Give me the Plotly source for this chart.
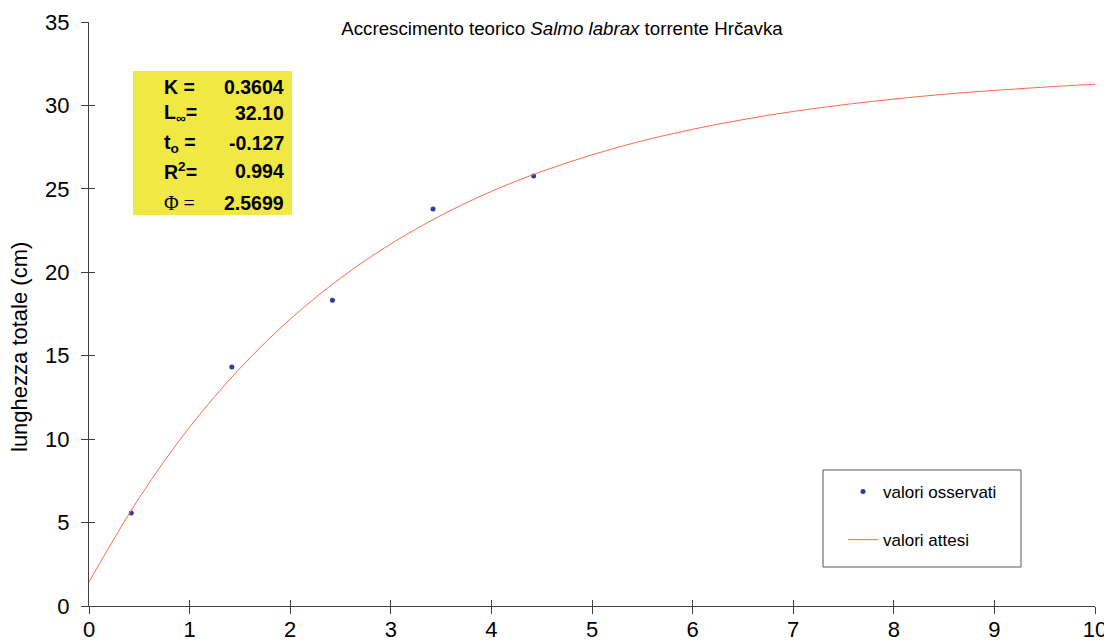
import plotly.graph_objects as go

# Observed values
obs_age = [0.42, 1.42, 2.42, 3.42, 4.42]
obs_len = [5.57, 14.32, 18.33, 23.79, 25.77]

# Expected values
exp_age = [0, 0.5, 1, 1.5, 2, 2.5, 3, 3.5, 4, 4.5, 5, 5.5, 6, 6.5, 7, 7.5, 8, 8.5, 9, 9.5, 10]
exp_len = [1.44, 6.49, 10.72, 14.24, 17.19, 19.65, 21.70, 23.41, 24.85, 26.04, 27.04,
           27.88, 28.57, 29.15, 29.64, 30.04, 30.38, 30.67, 30.90, 31.10, 31.27]

param_labels = ["K =", "L<sub>∞</sub>=", "t<sub>o</sub> =", "R<sup>2</sup>=", "Φ ="]
param_values = ["0.3604", "32.10", "-0.127", "0.994", "2.5699"]

x_ticks = list(range(0, 11))
y_ticks = list(range(0, 36, 5))

OFF = 8  # default page body margin
W, H = 1112 - OFF, 641 - OFF
PL, PR, PT, PB = 89, 1095, 22, 606  # plot area in page pixels
L, T = PL - OFF, PT - OFF
R = OFF + W - PR
B = OFF + H - PB


def px(x):
    return (x - PL) / (PR - PL)


def py(y):
    return (PB - y) / (PB - PT)


FONT = "Liberation Sans, Arial, sans-serif"
AX = "#404040"

fig = go.Figure()
fig.add_trace(go.Scatter(x=obs_age, y=obs_len, mode="markers", name="valori osservati",
                         marker=dict(color="#2E3D99", size=5), legendgroup="a"))
fig.add_trace(go.Scatter(x=exp_age, y=exp_len, mode="lines", name="valori attesi",
                         line=dict(color="#FF6A4D", width=1, shape="spline"), legendgroup="b"))
# invisible trace to create overlay axes for the second half of the crossing ticks
fig.add_trace(go.Scatter(x=[None], y=[None], xaxis="x2", yaxis="y2", showlegend=False))

tickfont = dict(family=FONT, size=22, color="#000")
base = dict(showgrid=False, zeroline=False, automargin=False, tickcolor=AX, tickwidth=1)

fig.update_layout(
    width=W, height=H,
    margin=dict(l=L, r=R, t=T, b=B),
    paper_bgcolor="white", plot_bgcolor="white",
    font=dict(family=FONT, color="#000"),
    title=dict(text="Accrescimento teorico <i>Salmo labrax</i> torrente Hrčavka",
               x=(562 - OFF) / W, xanchor="center", y=1 - (28 - OFF) / H, yanchor="middle",
               font=dict(family=FONT, size=18.7, color="#000")),
    xaxis=dict(range=[0, 10], tickvals=x_ticks, ticks="inside", ticklen=6,
               showline=True, linecolor=AX, linewidth=1,
               tickfont=tickfont, ticklabelstandoff=4, **base),
    yaxis=dict(range=[0, 35], tickvals=y_ticks, ticks="outside", ticklen=7,
               showline=True, linecolor=AX, linewidth=1,
               tickfont=tickfont, ticklabelstandoff=7, **base),
    xaxis2=dict(range=[0, 10], overlaying="x", anchor="y", side="bottom", tickvals=x_ticks,
                showticklabels=False, showline=False, ticks="outside", ticklen=7, **base),
    yaxis2=dict(range=[0, 35], overlaying="y", anchor="x", side="left", tickvals=y_ticks,
                showticklabels=False, showline=False, ticks="inside", ticklen=6, **base),
    legend=dict(x=px(843), y=py(474), xanchor="left", yanchor="top",
                borderwidth=0, bgcolor="rgba(0,0,0,0)",
                font=dict(family=FONT, size=17, color="#000"),
                itemwidth=30, tracegroupgap=23),
    showlegend=True,
)

# legend frame
fig.add_shape(type="rect", xref="paper", yref="paper", x0=px(823), x1=px(1021),
              y0=py(567), y1=py(470), fillcolor="white", line=dict(color="#555", width=1),
              layer="above")

# y axis title as annotation (placed like the original)
fig.add_annotation(text="lunghezza totale (cm)", xref="paper", yref="paper",
                   x=px(20), y=py(347), textangle=-90, showarrow=False,
                   xanchor="center", yanchor="middle",
                   font=dict(family=FONT, size=22, color="#000"))

# yellow parameter box
fig.add_shape(type="rect", xref="paper", yref="paper", x0=px(133), x1=px(292),
              y0=py(215), y1=py(71), fillcolor="#F0E944", line=dict(width=0), layer="above")
row_y = [87, 113, 143, 171, 203]
for lab, val, yy in zip(param_labels, param_values, row_y):
    if lab.startswith("Φ"):
        ltxt = lab
        lfont = dict(family="Liberation Serif, serif", size=20, color="#000")
    else:
        ltxt = "<b>" + lab + "</b>"
        lfont = dict(family=FONT, size=19.5, color="#000")
    fig.add_annotation(text=ltxt, xref="paper", yref="paper", x=px(162), y=py(yy),
                       xanchor="left", yanchor="middle", showarrow=False, font=lfont)
    fig.add_annotation(text="<b>" + val + "</b>", xref="paper", yref="paper", x=px(286), y=py(yy),
                       xanchor="right", yanchor="middle", showarrow=False,
                       font=dict(family=FONT, size=19.5, color="#000"))

fig.write_html("out.html")
